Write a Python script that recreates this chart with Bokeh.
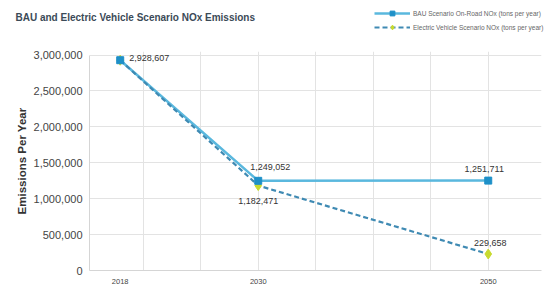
from bokeh.plotting import figure
from bokeh.layouts import column
from bokeh.models import (Range1d, FixedTicker, NumeralTickFormatter, Legend, LegendItem,
                          ColumnDataSource, LabelSet, Label)
from bokeh.core.properties import value
from bokeh.embed import file_html
from bokeh.resources import INLINE

years = [2018, 2030, 2050]
bau = [2928607, 1249052, 1251711]
ev = [2928607, 1182471, 229658]
year_labels = ["2018", "2030", "2050"]
bau_labels = ["2,928,607", "1,249,052", "1,251,711"]
ev_labels = ["", "1,182,471", "229,658"]
y_ticks = [0, 500000, 1000000, 1500000, 2000000, 2500000, 3000000]
x_grid = [2015, 2020, 2025, 2030, 2035, 2040, 2045, 2050, 2055]
title_text = "BAU and Electric Vehicle Scenario NOx Emissions"
series_names = ["BAU Scenario On-Road NOx (tons per year)", "Electric Vehicle Scenario NOx (tons per year)"]

FONT = "Liberation Sans"
BAU_LINE = "#5ab8de"
BAU_MARK = "#1e90c8"
EV_LINE = "#3f8ab3"
EV_MARK = "#c8da30"

src = ColumnDataSource(dict(x=years, bau=bau, ev=ev))

# ---------- header (title + legend) ----------
hdr = figure(width=544, height=40, output_backend="svg", toolbar_location=None,
             x_range=Range1d(0, 1), y_range=Range1d(0, 1),
             x_axis_location=None, y_axis_location=None,
             min_border_left=0, min_border_right=0, min_border_top=0, min_border_bottom=0)
hdr.frame_align = False
hdr.outline_line_color = None
hdr.grid.visible = False
hdr.add_layout(Label(x=15, y=23, x_units="screen", y_units="screen", text=title_text,
                     text_font=FONT, text_font_size="10px", text_font_style="bold",
                     text_color="#3b4a57", text_baseline="middle", text_align="left"))
# legend glyphs (same data, outside this header's ranges, so only the legend shows them)
h1 = hdr.line("x", "bau", source=src, line_color=BAU_LINE, line_width=2.5)
h1m = hdr.scatter("x", "bau", source=src, marker="square", size=7, fill_color=BAU_MARK, line_color=BAU_MARK)
h2 = hdr.line("x", "ev", source=src, line_color=EV_LINE, line_width=2.2, line_dash="5 3")
h2m = hdr.scatter("x", "ev", source=src, marker="diamond", size=10, fill_color=EV_MARK, line_color=EV_MARK)
legend = Legend(items=[
    LegendItem(label=series_names[0], renderers=[h1, h1m]),
    LegendItem(label=series_names[1], renderers=[h2, h2m]),
], location=(374, 7))
legend.border_line_color = None
legend.background_fill_alpha = 0
legend.padding = 0
legend.margin = 0
legend.glyph_width = 36
legend.glyph_height = 12
legend.spacing = 2
legend.label_standoff = 3
legend.label_text_font = FONT
legend.label_text_font_size = "6.5px"
legend.label_text_color = "#666666"
legend.label_height = 12
hdr.add_layout(legend, "center")

# ---------- main chart ----------
p = figure(width=544, height=249, output_backend="svg", toolbar_location=None,
           x_range=Range1d(2015.33, 2054.63), y_range=Range1d(0, 3050000),
           min_border_left=89, min_border_right=3, min_border_top=11, min_border_bottom=19)
p.frame_align = False
p.outline_line_color = None
p.background_fill_color = "white"

p.xgrid.ticker = FixedTicker(ticks=x_grid)
p.xgrid.grid_line_color = "#e3e3e3"
p.ygrid.ticker = FixedTicker(ticks=y_ticks)
p.ygrid.grid_line_color = "#e3e3e3"

p.xaxis.ticker = FixedTicker(ticks=years)
p.xaxis.major_label_overrides = {y: l for y, l in zip(years, year_labels)}
p.yaxis.ticker = FixedTicker(ticks=y_ticks)
p.yaxis.formatter = NumeralTickFormatter(format="0,0")
p.yaxis.bounds = (0, 3000000)
for ax in (p.xaxis, p.yaxis):
    ax.axis_line_color = "#d5d5d5"
    ax.major_tick_line_color = None
    ax.minor_tick_line_color = None
    ax.major_tick_out = 0
    ax.major_tick_in = 0
    ax.major_label_text_font = FONT
    ax.major_label_text_color = "#444444"
p.xaxis.major_label_text_font_size = "7.5px"
p.xaxis.major_label_standoff = 8
p.yaxis.major_label_text_font_size = "11px"
p.yaxis.major_label_standoff = 7
p.yaxis.axis_label = "Emissions Per Year"
p.yaxis.axis_label_text_font = FONT
p.yaxis.axis_label_text_font_size = "11.5px"
p.yaxis.axis_label_text_font_style = "bold"
p.yaxis.axis_label_text_color = "#333333"
p.yaxis.axis_label_standoff = 3

p.line("x", "bau", source=src, line_color=BAU_LINE, line_width=2.5)
p.line("x", "ev", source=src, line_color=EV_LINE, line_width=2.2, line_dash="5 3")
p.scatter("x", "ev", source=src, marker="diamond", size=10, fill_color=EV_MARK, line_color=EV_MARK)
p.scatter("x", "bau", source=src, marker="square", size=7, fill_color=BAU_MARK, line_color=BAU_MARK)

lab_kw = dict(text_font=value(FONT), text_font_size="9px", text_color="#333333", text_baseline="middle")
s1 = ColumnDataSource(dict(x=years[:1], y=bau[:1], t=bau_labels[:1]))
p.add_layout(LabelSet(x="x", y="y", text="t", source=s1, x_offset=9, y_offset=2, text_align="left", **lab_kw))
s2 = ColumnDataSource(dict(x=years[1:2], y=bau[1:2], t=bau_labels[1:2]))
p.add_layout(LabelSet(x="x", y="y", text="t", source=s2, x_offset=12, y_offset=14, text_align="center", **lab_kw))
s3 = ColumnDataSource(dict(x=years[2:], y=bau[2:], t=bau_labels[2:]))
p.add_layout(LabelSet(x="x", y="y", text="t", source=s3, x_offset=-4, y_offset=12, text_align="center", **lab_kw))
s4 = ColumnDataSource(dict(x=years[1:2], y=ev[1:2], t=ev_labels[1:2]))
p.add_layout(LabelSet(x="x", y="y", text="t", source=s4, x_offset=0, y_offset=-15, text_align="center", **lab_kw))
s5 = ColumnDataSource(dict(x=years[2:], y=ev[2:], t=ev_labels[2:]))
p.add_layout(LabelSet(x="x", y="y", text="t", source=s5, x_offset=2, y_offset=11, text_align="center", **lab_kw))

layout = column(hdr, p, spacing=0)
open("out.html", "w").write(file_html(layout, INLINE))
